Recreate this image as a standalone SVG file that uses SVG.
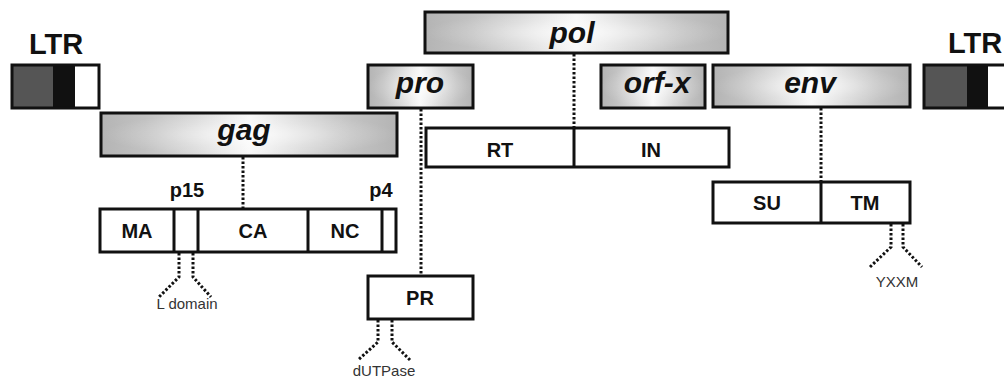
<svg xmlns="http://www.w3.org/2000/svg" width="1004" height="377" viewBox="0 0 1004 377">
<defs>
<linearGradient id="bar" x1="0" y1="0" x2="1" y2="0">
<stop offset="0" stop-color="#b4b4b4"/>
<stop offset="0.15" stop-color="#c2c2c2"/>
<stop offset="0.32" stop-color="#dadada"/>
<stop offset="0.45" stop-color="#f0f0f0"/>
<stop offset="0.5" stop-color="#f8f8f8"/>
<stop offset="0.55" stop-color="#f0f0f0"/>
<stop offset="0.68" stop-color="#dadada"/>
<stop offset="0.85" stop-color="#c2c2c2"/>
<stop offset="1" stop-color="#b4b4b4"/>
</linearGradient>
<radialGradient id="glow" cx="0.5" cy="0.5" r="0.5">
<stop offset="0" stop-color="#ffffff" stop-opacity="0.7"/>
<stop offset="0.6" stop-color="#ffffff" stop-opacity="0.2"/>
<stop offset="1" stop-color="#ffffff" stop-opacity="0"/>
</radialGradient>
</defs>
<style>
.gene{fill:url(#bar);stroke:#111;stroke-width:3}
.box{fill:#fff;stroke:#111;stroke-width:3}
.div{stroke:#111;stroke-width:3;fill:none}
.gt{font-family:"Liberation Sans",Arial,sans-serif;font-weight:bold;font-style:italic;font-size:30px;fill:#111;text-anchor:middle}
.bt{font-family:"Liberation Sans",Arial,sans-serif;font-weight:bold;font-size:20px;fill:#111;text-anchor:middle}
.ltr{font-family:"Liberation Sans",Arial,sans-serif;font-weight:bold;font-size:29px;fill:#111;text-anchor:middle}
.st{font-family:"Liberation Sans",Arial,sans-serif;font-size:15px;fill:#333;text-anchor:middle}
.dot{stroke:#111;stroke-width:3;fill:none;stroke-dasharray:2.5 2}
</style>

<g id="ltr-left">
<text class="ltr" x="56" y="54">LTR</text>
<rect x="12" y="65" width="41" height="43" fill="#555"/>
<rect x="53" y="65" width="22" height="43" fill="#111"/>
<rect x="75" y="65" width="24" height="43" fill="#fff"/>
<rect x="12" y="65" width="87" height="43" fill="none" stroke="#111" stroke-width="3"/>
</g>

<g id="ltr-right">
<text class="ltr" x="975" y="53">LTR</text>
<rect x="924" y="65" width="43" height="43" fill="#555"/>
<rect x="967" y="65" width="21" height="43" fill="#111"/>
<rect x="988" y="65" width="30" height="43" fill="#fff"/>
<rect x="924" y="65" width="94" height="43" fill="none" stroke="#111" stroke-width="3"/>
</g>

<g id="gag">
<rect class="gene" x="101" y="113" width="296" height="43"/>
<rect x="101" y="113" width="296" height="43" fill="url(#glow)"/>
<text class="gt" x="244" y="140">gag</text>
</g>

<g id="pro">
<rect class="gene" x="368" y="65" width="105" height="43"/>
<rect x="368" y="65" width="105" height="43" fill="url(#glow)"/>
<text class="gt" x="420" y="93">pro</text>
</g>

<g id="pol">
<rect class="gene" x="425" y="12" width="303" height="41"/>
<rect x="425" y="12" width="303" height="41" fill="url(#glow)"/>
<text class="gt" x="572" y="43">pol</text>
</g>

<g id="orf-x">
<rect class="gene" x="601" y="65" width="104" height="43"/>
<rect x="601" y="65" width="104" height="43" fill="url(#glow)"/>
<text class="gt" x="657" y="93">orf-x</text>
</g>

<g id="env">
<rect class="gene" x="713" y="65" width="197" height="42"/>
<rect x="713" y="65" width="197" height="42" fill="url(#glow)"/>
<text class="gt" x="810" y="93">env</text>
</g>

<g id="gag-proteins">
<rect class="box" x="100" y="209" width="296" height="43"/>
<line class="div" x1="174" y1="209" x2="174" y2="252"/>
<line class="div" x1="198" y1="209" x2="198" y2="252"/>
<line class="div" x1="308" y1="209" x2="308" y2="252"/>
<line class="div" x1="382" y1="209" x2="382" y2="252"/>
<text class="bt" x="137" y="238">MA</text>
<text class="bt" x="253" y="238">CA</text>
<text class="bt" x="345" y="238">NC</text>
<text class="bt" x="187" y="197">p15</text>
<text class="bt" x="381" y="197">p4</text>
</g>

<g id="pol-proteins">
<rect class="box" x="426" y="128" width="303" height="39"/>
<line class="div" x1="574" y1="128" x2="574" y2="167"/>
<text class="bt" x="500" y="157">RT</text>
<text class="bt" x="651" y="157">IN</text>
</g>

<g id="pr">
<rect class="box" x="368" y="276" width="105" height="43"/>
<text class="bt" x="420" y="305">PR</text>
</g>

<g id="env-proteins">
<rect class="box" x="713" y="182" width="197" height="41"/>
<line class="div" x1="821" y1="182" x2="821" y2="223"/>
<text class="bt" x="767" y="210">SU</text>
<text class="bt" x="865" y="210">TM</text>
</g>

<g id="connectors">
<line class="dot" x1="243" y1="157" x2="243" y2="208"/>
<line class="dot" x1="574" y1="54" x2="574" y2="127"/>
<line class="dot" x1="421" y1="109" x2="421" y2="275"/>
<line class="dot" x1="821" y1="108" x2="821" y2="181"/>
<polyline class="dot" points="179,253 179,277 159,297"/>
<polyline class="dot" points="193,253 193,277 211,297"/>
<polyline class="dot" points="378,320 378,342 358,360"/>
<polyline class="dot" points="392,320 392,342 410,360"/>
<polyline class="dot" points="891,224 891,247 870,267"/>
<polyline class="dot" points="903,224 903,247 922,267"/>
</g>

<g id="labels">
<text class="st" x="187" y="309">L domain</text>
<text class="st" x="384" y="376">dUTPase</text>
<text class="st" x="897" y="287">YXXM</text>
</g>
</svg>
